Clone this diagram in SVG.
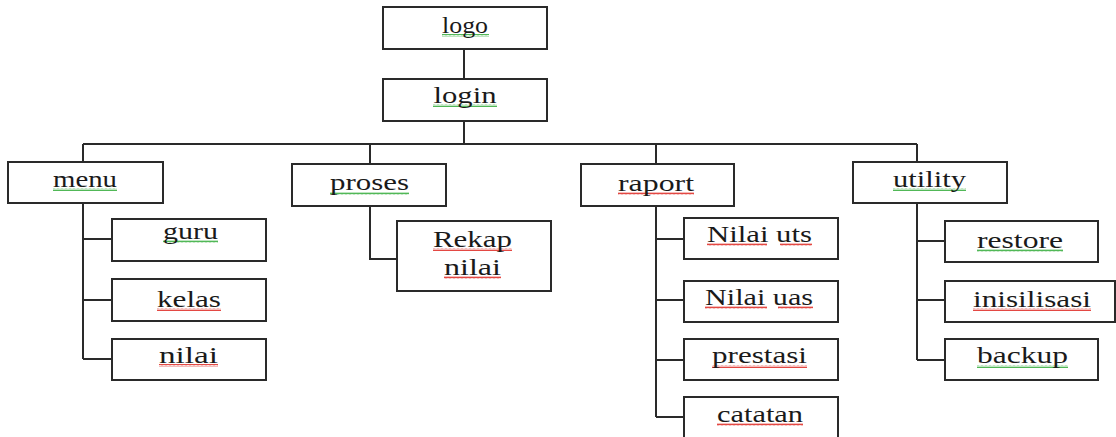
<svg xmlns="http://www.w3.org/2000/svg" width="1116" height="437" viewBox="0 0 1116 437">
<style>
.box{fill:#fff;stroke:#2a2a2a;stroke-width:2}
.lbl{font-family:"Liberation Serif","Times New Roman",serif;font-size:23px;fill:#1a1a1a;text-anchor:middle}
.con{stroke:#2a2a2a;stroke-width:2;fill:none}
</style>
<defs>
<pattern id="sqG" width="4" height="3" patternUnits="userSpaceOnUse"><polyline points="0,2.4 1,0.6 2,2.4 3,0.6 4,2.4" fill="none" stroke="#3cb043" stroke-width="0.9"/></pattern>
<pattern id="sqR" width="4" height="3" patternUnits="userSpaceOnUse"><polyline points="0,2.4 1,0.6 2,2.4 3,0.6 4,2.4" fill="none" stroke="#e0322c" stroke-width="0.9"/></pattern>
</defs>
<rect width="1116" height="437" fill="#fff"/>
<g id="connectors">
<path class="con" d="M464,49V79M464,121V144M83,144H917M83,144V162M370,144V164M656,144V164M917,144V162"/>
<path class="con" d="M83,203V359M83,239H112M83,300H112M83,359H112"/>
<path class="con" d="M370,206V259H397"/>
<path class="con" d="M656,206V417M656,239H684M656,300H684M656,360H684M656,417H684"/>
<path class="con" d="M917,203V360M917,241H945M917,300H945M917,360H945"/>
</g>
<g id="logo"><rect class="box" x="383" y="7" width="164" height="42"/><rect x="442" y="34" width="47" height="3" fill="url(#sqG)"/><text class="lbl" x="465" y="33" textLength="46" lengthAdjust="spacingAndGlyphs">logo</text></g>
<g id="login"><rect class="box" x="383" y="79" width="164" height="42"/><rect x="433" y="104" width="64" height="3" fill="url(#sqG)"/><text class="lbl" x="465" y="103" textLength="63" lengthAdjust="spacingAndGlyphs">login</text></g>
<g id="menu"><rect class="box" x="8" y="162" width="155" height="41"/><rect x="53" y="188" width="64" height="3" fill="url(#sqG)"/><text class="lbl" x="85" y="187" textLength="64" lengthAdjust="spacingAndGlyphs">menu</text></g>
<g id="guru"><rect class="box" x="112" y="219" width="154" height="42"/><rect x="163" y="240" width="55" height="3" fill="url(#sqG)"/><text class="lbl" x="190.5" y="239" textLength="55" lengthAdjust="spacingAndGlyphs">guru</text></g>
<g id="kelas"><rect class="box" x="112" y="279" width="154" height="42"/><rect x="157" y="308" width="64" height="3" fill="url(#sqR)"/><text class="lbl" x="189" y="307" textLength="64" lengthAdjust="spacingAndGlyphs">kelas</text></g>
<g id="nilai-menu"><rect class="box" x="112" y="339" width="154" height="41"/><rect x="159" y="364" width="59" height="3" fill="url(#sqR)"/><text class="lbl" x="188.5" y="363" textLength="59" lengthAdjust="spacingAndGlyphs">nilai</text></g>
<g id="proses"><rect class="box" x="292" y="164" width="154" height="42"/><rect x="330" y="192" width="79" height="3" fill="url(#sqG)"/><text class="lbl" x="369.5" y="190" textLength="79" lengthAdjust="spacingAndGlyphs">proses</text></g>
<g id="rekap-nilai"><rect class="box" x="397" y="221" width="154" height="70"/><rect x="433" y="248" width="79" height="3" fill="url(#sqR)"/><rect x="444" y="276" width="57" height="3" fill="url(#sqR)"/><text class="lbl" x="472.5" y="247" textLength="79" lengthAdjust="spacingAndGlyphs">Rekap</text><text class="lbl" x="472.5" y="275" textLength="57" lengthAdjust="spacingAndGlyphs">nilai</text></g>
<g id="raport"><rect class="box" x="581" y="164" width="153" height="42"/><rect x="618" y="192" width="76" height="3" fill="url(#sqR)"/><text class="lbl" x="656" y="191" textLength="76" lengthAdjust="spacingAndGlyphs">raport</text></g>
<g id="nilai-uts"><rect class="box" x="684" y="218" width="154" height="41"/><rect x="707" y="243" width="60" height="3" fill="url(#sqR)"/><rect x="780" y="243" width="32" height="3" fill="url(#sqR)"/><text class="lbl" x="759.5" y="242" textLength="105" lengthAdjust="spacingAndGlyphs">Nilai uts</text></g>
<g id="nilai-uas"><rect class="box" x="684" y="281" width="154" height="41"/><rect x="705" y="306" width="62" height="3" fill="url(#sqR)"/><rect x="778" y="306" width="35" height="3" fill="url(#sqR)"/><text class="lbl" x="759" y="305" textLength="108" lengthAdjust="spacingAndGlyphs">Nilai uas</text></g>
<g id="prestasi"><rect class="box" x="684" y="339" width="154" height="41"/><rect x="712" y="365" width="95" height="3" fill="url(#sqR)"/><text class="lbl" x="759.5" y="363" textLength="95" lengthAdjust="spacingAndGlyphs">prestasi</text></g>
<g id="catatan"><rect class="box" x="684" y="397" width="154" height="50"/><rect x="717" y="423" width="86" height="3" fill="url(#sqR)"/><text class="lbl" x="760" y="422" textLength="86" lengthAdjust="spacingAndGlyphs">catatan</text></g>
<g id="utility"><rect class="box" x="853" y="162" width="154" height="41"/><rect x="893" y="188" width="73" height="3" fill="url(#sqG)"/><text class="lbl" x="929.5" y="187" textLength="73" lengthAdjust="spacingAndGlyphs">utility</text></g>
<g id="restore"><rect class="box" x="945" y="221" width="153" height="41"/><rect x="977" y="249" width="86" height="3" fill="url(#sqG)"/><text class="lbl" x="1020" y="248" textLength="86" lengthAdjust="spacingAndGlyphs">restore</text></g>
<g id="inisilisasi"><rect class="box" x="945" y="281" width="170" height="41"/><rect x="973" y="308" width="118" height="3" fill="url(#sqR)"/><text class="lbl" x="1032" y="307" textLength="118" lengthAdjust="spacingAndGlyphs">inisilisasi</text></g>
<g id="backup"><rect class="box" x="945" y="339" width="153" height="41"/><rect x="977" y="365" width="91" height="3" fill="url(#sqG)"/><text class="lbl" x="1022.5" y="363" textLength="91" lengthAdjust="spacingAndGlyphs">backup</text></g>
</svg>
